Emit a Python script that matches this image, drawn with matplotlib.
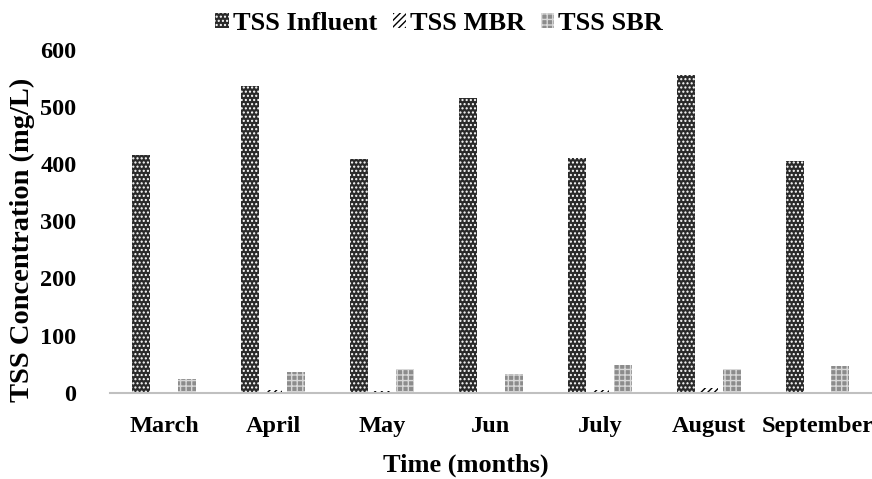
import numpy as np
import matplotlib.pyplot as plt

plt.rcParams['font.family'] = 'Liberation Serif'
plt.rcParams['font.weight'] = 'bold'
plt.rcParams['hatch.linewidth'] = 1.0

# Données
months = ['March', 'April', 'May', 'Jun', 'July', 'August', 'September']
tss_influent = [416, 536, 409, 516, 411, 556, 406]
tss_mbr = [0.5, 4, 3, 2, 5, 8, 0.5]
tss_sbr = [24, 37, 42, 33, 49, 42, 47]

x = np.arange(len(months))
w = 0.165

fig = plt.figure(figsize=(8.72, 4.79), dpi=100)
ax = fig.add_axes([0.126, 0.18, 0.874, 0.716])

ax.bar(x - 0.21, tss_influent, w, color='#2a2a2a', edgecolor='white', hatch='....', lw=0, label='TSS Influent')
ax.bar(x, tss_mbr, w, color='white', edgecolor='black', hatch='/////', lw=0, label='TSS MBR')
ax.bar(x + 0.21, tss_sbr, w, color='#8c8c8c', edgecolor='#d8d8d8', hatch='+++', lw=0, label='TSS SBR')

ax.set_xlim(-0.5, 6.5)
ax.set_ylim(0, 600)
ax.set_yticks(np.arange(0, 601, 100))
ax.set_xticks(x)
ax.set_xticklabels(months)
ax.tick_params(length=0, labelsize=17.5, pad=17)
ax.tick_params(axis='y', pad=24)
for s in ['top', 'right', 'left']:
    ax.spines[s].set_visible(False)
ax.spines['bottom'].set_color('#c0c0c0')
ax.spines['bottom'].set_linewidth(1.5)

ax.set_xlabel('Time (months)', fontsize=19, fontweight='bold', labelpad=0)
ax.xaxis.set_label_coords(0.467, -0.178)
fig.text(22/872, 1 - 240/479, 'TSS Concentration (mg/L)', rotation=90,
         ha='center', va='center', fontsize=20.5, fontweight='bold')

ax.legend(loc='lower center', bbox_to_anchor=(0.432, 0.975), ncol=3, frameon=False,
          fontsize=19, handlelength=0.5, handleheight=0.5, handletextpad=0.15, columnspacing=0.6)

plt.savefig('out.png', dpi=100)
